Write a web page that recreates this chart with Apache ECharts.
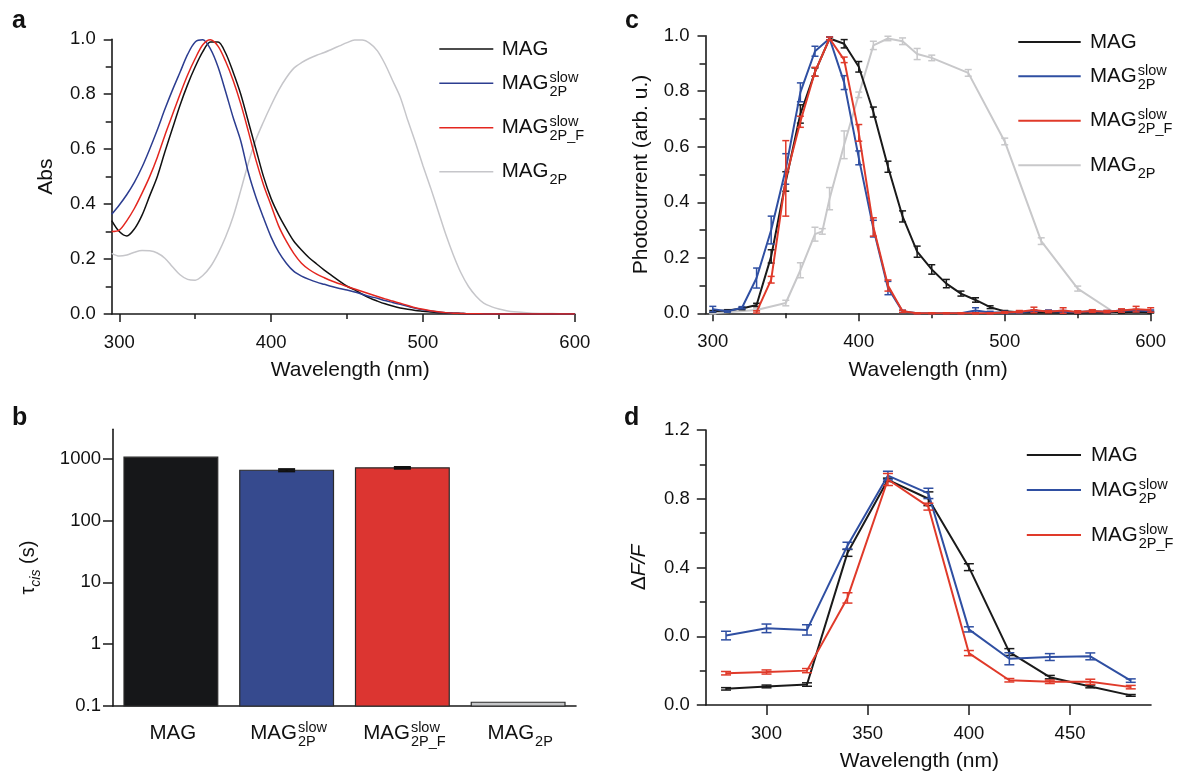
<!DOCTYPE html>
<html><head><meta charset="utf-8">
<script src="https://cdn.jsdelivr.net/npm/echarts@6/dist/echarts.min.js"></script>
<style>html,body{margin:0;padding:0;background:#fff}#c{width:1178px;height:773px}</style>
</head><body><div id="c"></div>
<script>
// ---------- Panel a: absorbance spectra ----------
const aWl = [295,300,305,310,315,320,325,330,335,340,345,350,355,360,365,370,375,380,385,390,395,400,405,410,415,420,425,430,435,440,445,450,455,460,465,470,475,480,485,490,495,500,505,510,515,520,525,530,535,540,545,550,555,560,570,580,590,600];
const aMAG = [0.34,0.30,0.284,0.31,0.36,0.43,0.50,0.59,0.675,0.76,0.835,0.90,0.955,0.99,0.99,0.95,0.88,0.80,0.70,0.60,0.50,0.42,0.36,0.31,0.265,0.233,0.205,0.182,0.16,0.14,0.12,0.101,0.088,0.072,0.058,0.047,0.037,0.029,0.022,0.017,0.013,0.010,0.007,0.005,0.004,0.003,0.002,0.001,0.001,0,0,0,0,0,0,0,0,0];
const aSlow = [0.363,0.397,0.435,0.48,0.535,0.60,0.67,0.745,0.815,0.88,0.945,0.99,0.998,0.965,0.90,0.81,0.715,0.63,0.515,0.425,0.35,0.28,0.225,0.185,0.155,0.138,0.126,0.116,0.108,0.10,0.093,0.087,0.08,0.072,0.064,0.057,0.049,0.042,0.035,0.028,0.021,0.015,0.011,0.007,0.005,0.003,0.002,0.001,0.001,0,0,0,0,0,0,0,0,0];
const aSlowF = [0.30,0.305,0.34,0.385,0.44,0.50,0.57,0.65,0.725,0.80,0.87,0.93,0.98,0.998,0.975,0.92,0.85,0.765,0.665,0.56,0.47,0.395,0.32,0.265,0.22,0.185,0.162,0.145,0.132,0.12,0.11,0.100,0.091,0.082,0.073,0.064,0.055,0.047,0.039,0.031,0.023,0.017,0.012,0.008,0.005,0.003,0.002,0.001,0.001,0,0,0,0,0,0,0,0,0];
const a2P = [0.221,0.211,0.215,0.225,0.231,0.23,0.222,0.203,0.172,0.143,0.126,0.123,0.14,0.172,0.22,0.28,0.355,0.45,0.55,0.635,0.70,0.76,0.815,0.86,0.895,0.915,0.93,0.942,0.952,0.964,0.976,0.988,0.997,0.997,0.985,0.958,0.91,0.85,0.79,0.705,0.625,0.54,0.46,0.375,0.29,0.215,0.15,0.10,0.065,0.04,0.027,0.018,0.012,0.008,0.004,0.002,0.001,0];
const aXTicks = [300,400,500,600];
const aXMinorTicks = [350,450,550];

// ---------- Panel b: tau_cis (log) ----------
const bCats = ['MAG','MAG2P_slow','MAG2P_F_slow','MAG2P'];
const bTau = [1060, 653, 714, 0.115];
const bTauErr = [0, 25, 20, 0.001];
const bYTicks = [0.1, 1, 10, 100, 1000];
const bYTickLabels = ['0.1','1','10','100','1000'];

// ---------- Panel c: photocurrent ----------
const cWl = [300,310,320,330,340,350,360,370,380,390,400,410,420,430,440,450,460,470,480,490,500,510,520,530,540,550,560,570,580,590,600];
const cMAG = [0.007,0.01,0.017,0.03,0.205,0.475,0.718,0.869,0.99,0.971,0.888,0.725,0.528,0.349,0.222,0.158,0.107,0.071,0.048,0.022,0.007,0.004,0.003,0.003,0.002,0.002,0.003,0.003,0.004,0.006,0.004];
const cMAGErr = [0.003,0.003,0.004,0.006,0.024,0.035,0.033,0.015,0.005,0.015,0.019,0.018,0.02,0.02,0.02,0.017,0.015,0.009,0.008,0.005,0.003,0.003,0.003,0.003,0.003,0.003,0.003,0.003,0.003,0.003,0.003];
const cSlow = [0.015,0.007,0.02,0.127,0.30,0.52,0.796,0.944,0.99,0.831,0.56,0.305,0.091,0.007,0,0,0,0,0.01,0.003,0.003,0.004,0.008,0.008,0.006,0.005,0.007,0.006,0.01,0.01,0.008];
const cSlowErr = [0.01,0.003,0.004,0.036,0.05,0.055,0.034,0.018,0.005,0.025,0.025,0.03,0.024,0.004,0.002,0.002,0.002,0.002,0.01,0.004,0.004,0.004,0.004,0.004,0.004,0.004,0.004,0.004,0.004,0.004,0.004];
const cSlowF = [null,null,null,0.005,0.121,0.486,0.69,0.87,0.99,0.913,0.65,0.311,0.10,0.007,0,0,0,0,0,0,0.003,0.006,0.012,0.006,0.01,0.005,0.008,0.006,0.01,0.015,0.012];
const cSlowFErr = [null,null,null,0.004,0.012,0.136,0.02,0.016,0.005,0.01,0.03,0.033,0.02,0.004,0.002,0.002,0.002,0.002,0.002,0.002,0.003,0.004,0.01,0.004,0.01,0.004,0.005,0.004,0.006,0.01,0.008];
const c2PWl = [300,330,350,360,370,375,380,390,400,410,420,430,440,450,475,500,525,550,575];
const c2P = [0.0,0.012,0.037,0.155,0.285,0.295,0.413,0.607,0.787,0.965,0.99,0.98,0.934,0.92,0.866,0.619,0.26,0.089,0.003];
const c2PErr = [0.002,0.004,0.01,0.027,0.025,0.01,0.04,0.05,0.01,0.015,0.008,0.012,0.02,0.01,0.012,0.012,0.012,0.009,0.003];

// ---------- Panel d: dF/F ----------
const dWl = [280,300,320,340,360,380,400,420,440,460,480];
const dMAG = [-0.306,-0.292,-0.281,0.485,0.91,0.80,0.402,-0.092,-0.238,-0.292,-0.344];
const dMAGErr = [0.007,0.008,0.01,0.02,0.01,0.04,0.02,0.02,0.01,0.008,0.005];
const dSlow = [0.004,0.046,0.037,0.527,0.935,0.831,0.04,-0.131,-0.121,-0.117,-0.258];
const dSlowErr = [0.025,0.025,0.03,0.02,0.025,0.03,0.015,0.035,0.02,0.02,0.01];
const dSlowF = [-0.215,-0.208,-0.2,0.223,0.912,0.754,-0.098,-0.256,-0.265,-0.265,-0.296];
const dSlowFErr = [0.01,0.012,0.012,0.03,0.035,0.02,0.015,0.01,0.01,0.015,0.01];
const dXTicks = [300,350,400,450];
const dYTickLabels = ['0.0','0.0','0.4','0.8','1.2'];

// ---------- label texts ----------
const labelMAG = {base:'MAG'};
const labelSlow = {base:'MAG', sup:'slow', sub:'2P'};
const labelSlowF = {base:'MAG', sup:'slow', sub:'2P_F'};
const label2P = {base:'MAG', sub:'2P'};

// ---------- styles ----------
const FONT = '"Liberation Sans", Arial, Helvetica, sans-serif';
const AX = '#1a1a1a';
const TXT = '#111';
const TICK_FS = 18.5, NAME_FS = 21, LEG_FS = 20.5, SUB_FS = 14.5;
const colA = {mag:'#111111', slow:'#2c3d90', slowF:'#e4261f', p2:'#c6c6ca'};
const colC = {mag:'#1a1a1a', slow:'#2f4fa2', slowF:'#e03a2a', p2:'#c8c8ca'};
const colB = ['#161719', '#364a8e', '#dc3531', '#c6c7c9'];

const zip = (xs, ys) => xs.map((x, i) => [x, ys[i]]).filter(p => p[1] !== null);
const zip3 = (xs, ys, es) => xs.map((x, i) => [x, ys[i], es[i]]).filter(p => p[1] !== null);

function errRender(capHalf, color, lw) {
  return function (params, api) {
    const x = api.value(0), y = api.value(1), e = api.value(2);
    const lo = api.coord([x, y - e]), hi = api.coord([x, y + e]);
    const style = {stroke: color, lineWidth: lw, fill: null};
    return {type: 'group', children: [
      {type: 'line', shape: {x1: lo[0], y1: lo[1], x2: hi[0], y2: hi[1]}, style},
      {type: 'line', shape: {x1: lo[0] - capHalf, y1: lo[1], x2: lo[0] + capHalf, y2: lo[1]}, style},
      {type: 'line', shape: {x1: hi[0] - capHalf, y1: hi[1], x2: hi[0] + capHalf, y2: hi[1]}, style}
    ]};
  };
}

function lineSeries(name, xi, yi, data, color, w, smooth, z) {
  return {name, type: 'line', xAxisIndex: xi, yAxisIndex: yi, data, showSymbol: false, symbol: 'none',
    smooth: smooth, lineStyle: {color, width: w}, itemStyle: {color}, z, silent: true};
}
function errSeries(xi, yi, data, color, cap, lw, z) {
  return {type: 'custom', xAxisIndex: xi, yAxisIndex: yi, data, renderItem: errRender(cap, color, lw), z, silent: true};
}

const axLine = {show: true, onZero: false, lineStyle: {color: AX, width: 1.6}};
const tickStyle = {color: AX, width: 1.5};
const lblStyle = {fontSize: TICK_FS, color: TXT, fontFamily: FONT};
const nameStyle = {fontSize: NAME_FS, color: TXT, fontFamily: FONT};

function wlAxis(grid, min, max, labelTicks, nameShift, tickLen) {
  return {gridIndex: grid, type: 'value', min, max, position: 'bottom',
    axisLine: axLine,
    axisTick: {show: true, length: tickLen, lineStyle: tickStyle, customValues: labelTicks},
    axisLabel: Object.assign({show: true, margin: 19, customValues: labelTicks}, lblStyle),
    splitLine: {show: false},
    name: 'Wavelength (nm)', nameLocation: 'middle', nameGap: 46,
    nameTextStyle: Object.assign({padding: nameShift > 0 ? [0, 0, 0, nameShift] : [0, -nameShift, 0, 0]}, nameStyle)};
}
function minorAxis(grid, min, max, ticks) {
  return {gridIndex: grid, type: 'value', min, max, position: 'bottom',
    axisLine: {show: false}, axisLabel: {show: false}, splitLine: {show: false},
    axisTick: {show: true, length: 5, lineStyle: tickStyle, customValues: ticks}};
}
function unitYAxis(grid, name, gap) {
  return {gridIndex: grid, type: 'value', min: 0, max: 1, interval: 0.2,
    axisLine: axLine,
    axisTick: {show: true, length: 8, lineStyle: tickStyle},
    minorTick: {show: true, splitNumber: 2, length: 6, lineStyle: tickStyle},
    axisLabel: Object.assign({margin: 16, formatter: v => v.toFixed(1)}, lblStyle),
    splitLine: {show: false}, minorSplitLine: {show: false},
    name, nameLocation: 'middle', nameRotate: 90, nameGap: gap, nameTextStyle: nameStyle};
}

const bYMin = 0.1, bYMax = 3000;
const dYMin = -0.4, dYMax = 1.2, dYStep = 0.4;

const option = {
  animation: false,
  backgroundColor: '#fff',
  grid: [
    {left: 111.7, top: 39.3, width: 463.1, height: 274.7},
    {left: 113, top: 429.3, width: 463, height: 276.7},
    {left: 705.5, top: 35.7, width: 445.2, height: 277.6},
    {left: 705.8, top: 430, width: 445.2, height: 277.3}
  ],
  xAxis: [
    wlAxis(0, 295, 600, aXTicks, 14, 8),
    minorAxis(0, 295, 600, aXMinorTicks),
    {gridIndex: 1, type: 'category', data: bCats, axisLine: axLine, axisTick: {show: false}, axisLabel: {show: false}, splitLine: {show: false}},
    wlAxis(2, 295, 600, aXTicks, 0, 8),
    minorAxis(2, 295, 600, aXMinorTicks),
    wlAxis(3, 270, 490, dXTicks, -18, 10)
  ],
  yAxis: [
    unitYAxis(0, 'Abs', 55),
    {gridIndex: 1, type: 'log', logBase: 10, min: bYMin, max: bYMax,
      axisLine: axLine,
      axisTick: {show: true, length: 10, lineStyle: tickStyle, customValues: bYTicks},
      axisLabel: Object.assign({margin: 12, customValues: bYTicks, formatter: v => {
        let bi = 0, bd = Infinity;
        bYTicks.forEach((t, i) => { const d = Math.abs(Math.log10(v) - Math.log10(t)); if (d < bd) { bd = d; bi = i; } });
        return bYTickLabels[bi];
      }}, lblStyle),
      splitLine: {show: false},
      name: '{t|τ}{s|cis}{t| (s)}', nameLocation: 'middle', nameRotate: 90, nameGap: 70,
      nameTextStyle: {color: TXT, fontFamily: FONT, rich: {
        t: {fontSize: 20, fontFamily: FONT, color: TXT, lineHeight: 30, verticalAlign: 'middle'},
        s: {fontSize: 14, fontFamily: FONT, fontStyle: 'italic', color: TXT, lineHeight: 14, verticalAlign: 'bottom'}
      }}},
    unitYAxis(2, 'Photocurrent (arb. u.)', 54),
    {gridIndex: 3, type: 'value', min: dYMin, max: dYMax, interval: dYStep,
      axisLine: axLine,
      axisTick: {show: true, length: 9, lineStyle: tickStyle},
      minorTick: {show: true, splitNumber: 2, length: 6, lineStyle: tickStyle},
      axisLabel: Object.assign({margin: 16, formatter: v => dYTickLabels[Math.round((v - dYMin) / dYStep)]}, lblStyle),
      splitLine: {show: false}, minorSplitLine: {show: false},
      name: '{n|Δ}{i|F/F}', nameLocation: 'middle', nameRotate: 90, nameGap: 56,
      nameTextStyle: {color: TXT, fontFamily: FONT, rich: {
        n: {fontSize: 21, fontFamily: FONT, color: TXT},
        i: {fontSize: 21, fontFamily: FONT, fontStyle: 'italic', color: TXT}
      }}}
  ],
  series: [
    // panel a
    lineSeries('a2P', 0, 0, zip(aWl, a2P), colA.p2, 1.5, 0.3, 2),
    lineSeries('aMAG', 0, 0, zip(aWl, aMAG), colA.mag, 1.5, 0.3, 3),
    lineSeries('aSlow', 0, 0, zip(aWl, aSlow), colA.slow, 1.5, 0.3, 4),
    lineSeries('aSlowF', 0, 0, zip(aWl, aSlowF), colA.slowF, 1.5, 0.3, 5),
    // panel b bars
    {type: 'custom', xAxisIndex: 2, yAxisIndex: 1, silent: true, z: 2,
      data: bTau.map((v, i) => [i, v]),
      renderItem: function (params, api) {
        const i = api.value(0), v = api.value(1);
        const top = api.coord([i, v]);
        const base = api.coord([i, bYMin]);
        const w = params.coordSys.width / bCats.length * 0.81;
        return {type: 'rect', shape: {x: top[0] - w / 2, y: top[1], width: w, height: base[1] - top[1]},
          style: {fill: colB[i], stroke: '#2b2b2b', lineWidth: 1.2}};
      }},
    errSeries(2, 1, bTau.map((v, i) => [i, v, bTauErr[i]]).filter(p => p[2] > 0.01), '#111', 8.5, 2.2, 3),
    // panel c
    lineSeries('c2P', 3, 2, zip(c2PWl, c2P), colC.p2, 2, false, 2),
    errSeries(3, 2, zip3(c2PWl, c2P, c2PErr), colC.p2, 3.5, 1.5, 2),
    lineSeries('cMAG', 3, 2, zip(cWl, cMAG), colC.mag, 2, false, 3),
    errSeries(3, 2, zip3(cWl, cMAG, cMAGErr), colC.mag, 3.5, 1.5, 3),
    lineSeries('cSlow', 3, 2, zip(cWl, cSlow), colC.slow, 2, false, 4),
    errSeries(3, 2, zip3(cWl, cSlow, cSlowErr), colC.slow, 3.5, 1.5, 4),
    lineSeries('cSlowF', 3, 2, zip(cWl, cSlowF), colC.slowF, 2, false, 5),
    errSeries(3, 2, zip3(cWl, cSlowF, cSlowFErr), colC.slowF, 3.5, 1.5, 5),
    // panel d
    lineSeries('dMAG', 5, 3, zip(dWl, dMAG), colC.mag, 2, false, 3),
    errSeries(5, 3, zip3(dWl, dMAG, dMAGErr), colC.mag, 5, 1.5, 3),
    lineSeries('dSlow', 5, 3, zip(dWl, dSlow), colC.slow, 2, false, 4),
    errSeries(5, 3, zip3(dWl, dSlow, dSlowErr), colC.slow, 5, 1.5, 4),
    lineSeries('dSlowF', 5, 3, zip(dWl, dSlowF), colC.slowF, 2, false, 5),
    errSeries(5, 3, zip3(dWl, dSlowF, dSlowFErr), colC.slowF, 5, 1.5, 5)
  ]
};

const chart = echarts.init(document.getElementById('c'), null, {renderer: 'canvas'});
chart.setOption(option);

// ---------- text with stacked super/subscripts ----------
const mctx = document.createElement('canvas').getContext('2d');
function measure(t, size) { mctx.font = size + 'px ' + FONT; return mctx.measureText(t).width; }
function txt(x, y, text, size, weight) {
  const font = (weight || 'normal') + ' ' + size + 'px ' + FONT;
  return {type: 'text', x, y, silent: true, z: 100,
    style: {text, fill: TXT, font, textAlign: 'left', textVerticalAlign: 'middle', align: 'left', verticalAlign: 'middle'}};
}
function composite(x, y, spec, center) {
  const wb = measure(spec.base, LEG_FS);
  const ws = Math.max(spec.sup ? measure(spec.sup, SUB_FS) : 0, spec.sub ? measure(spec.sub, SUB_FS) : 0);
  const total = wb + (ws ? ws + 1 : 0);
  const x0 = center ? x - total / 2 : x;
  const els = [txt(x0, y, spec.base, LEG_FS)];
  if (spec.sup) els.push(txt(x0 + wb + 1, y - 5.5, spec.sup, SUB_FS));
  if (spec.sub) els.push(txt(x0 + wb + 1, y + 8.5, spec.sub, SUB_FS));
  return els;
}
function legend(x1, x2, xt, rows, specs, colors, lw) {
  const els = [];
  specs.forEach((s, i) => {
    els.push({type: 'line', silent: true, z: 100, shape: {x1, y1: rows[i], x2, y2: rows[i]}, style: {stroke: colors[i], lineWidth: lw}});
    els.push(...composite(xt, rows[i], s, false));
  });
  return els;
}

const graphics = [];
graphics.push(txt(12, 21.5, 'a', 25, 'bold'));
graphics.push(txt(12, 418.5, 'b', 25, 'bold'));
graphics.push(txt(625, 21.5, 'c', 25, 'bold'));
graphics.push(txt(624, 418, 'd', 25, 'bold'));
graphics.push(...legend(439.3, 493.3, 501.7, [49, 83.3, 127.7, 171.7], [labelMAG, labelSlow, labelSlowF, label2P], [colA.mag, colA.slow, colA.slowF, colA.p2], 1.6));
graphics.push(...legend(1018.3, 1080.7, 1090, [42, 76.3, 120.7, 165.3], [labelMAG, labelSlow, labelSlowF, label2P], [colC.mag, colC.slow, colC.slowF, colC.p2], 2));
graphics.push(...legend(1026.8, 1081, 1091, [455, 490, 535], [labelMAG, labelSlow, labelSlowF], [colC.mag, colC.slow, colC.slowF], 2));
[labelMAG, labelSlow, labelSlowF, label2P].forEach((s, i) => {
  const px = chart.convertToPixel({xAxisIndex: 2}, i);
  graphics.push(...composite(px + 2, 733, s, true));
});
chart.setOption({graphic: graphics});
</script></body></html>
